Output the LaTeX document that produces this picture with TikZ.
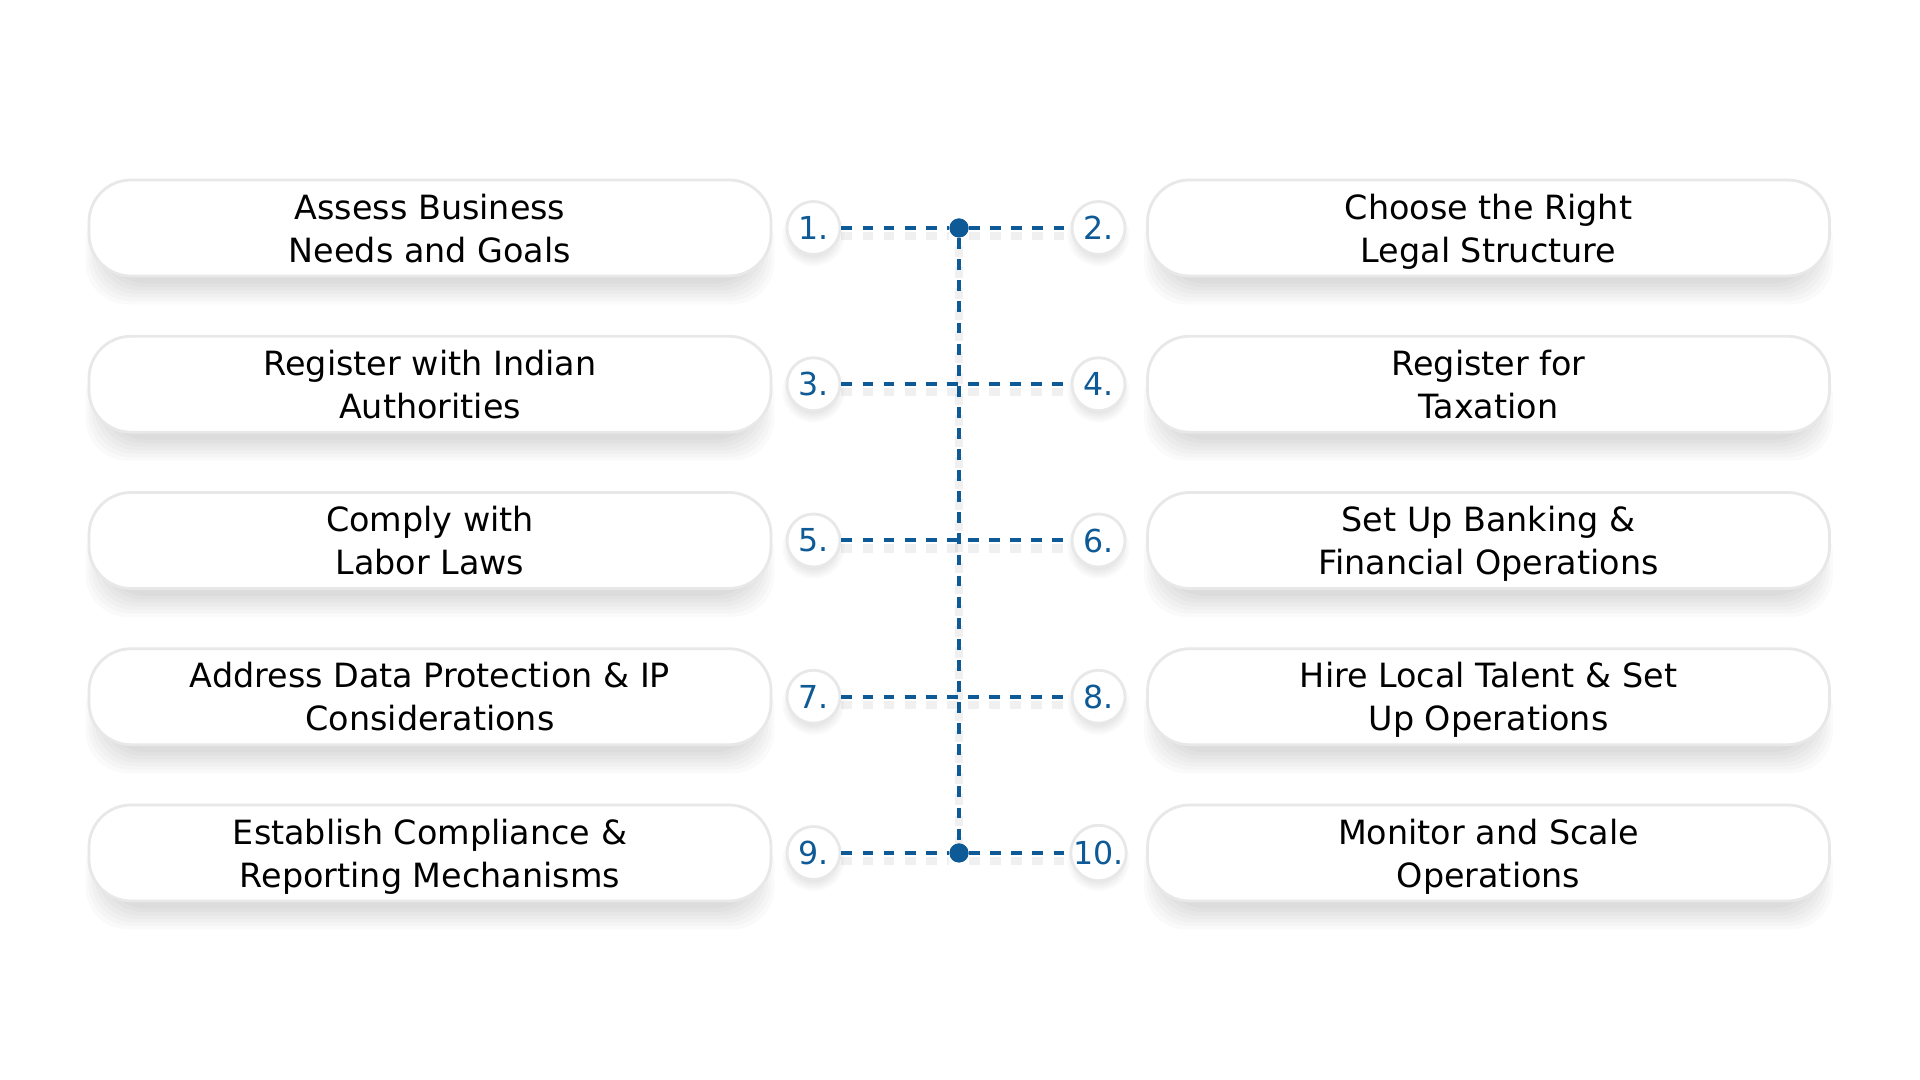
\documentclass[tikz,border=0pt]{standalone}
\usepackage{fontspec}
\setmainfont{DejaVu Sans}
\usetikzlibrary{positioning,backgrounds}
\definecolor{stepblue}{HTML}{0E5A96}
\definecolor{boxline}{HTML}{E8E8E8}

\begin{document}
\begin{tikzpicture}[%
    node distance=1.5625cm,
    on grid,
    task/.style={draw=boxline, line width=0.8pt, fill=white,
      rounded corners=0.42cm, minimum width=6.82cm, minimum height=0.96cm,
      align=center, font=\fontsize{9.5}{12.2}\selectfont,
      execute at begin node={\rule{0pt}{7.4pt}}, text depth=0pt},
    num/.style={circle, draw=boxline, line width=0.8pt, fill=white,
      minimum size=0.53cm, inner sep=0pt, text=stepblue,
      font=\fontsize{9}{10}\selectfont},
    hub/.style={circle, fill=stepblue, minimum size=0.19cm, inner sep=0pt},
    link/.style={stepblue, line width=1.14pt, dash pattern=on 3.1pt off 2.9pt,
      preaction={draw=black, opacity=0.06, line width=2.4pt,
        dash pattern=on 3.1pt off 2.9pt,
        transform canvas={yshift=-0.08cm}}},
    haze/.style={fill=black, fill opacity=0.018}
  ]
    \useasboundingbox (0,0) rectangle (19.2,10.8);

    % left column
    \node[task] (L1) at (4.30,8.52) {Assess Business\\Needs and Goals};
    \node[task] (L3) [below=of L1] {Register with Indian\\Authorities};
    \node[task] (L5) [below=of L3] {Comply with\\Labor Laws};
    \node[task] (L7) [below=of L5] {Address Data Protection \& IP\\Considerations};
    \node[task] (L9) [below=of L7] {Establish Compliance \&\\Reporting Mechanisms};

    % numbers
    \node[num] (n1) [right=3.835cm of L1] {1.};
    \node[num] (n3) [right=3.835cm of L3] {3.};
    \node[num] (n5) [right=3.835cm of L5] {5.};
    \node[num] (n7) [right=3.835cm of L7] {7.};
    \node[num] (n9) [right=3.835cm of L9] {9.};
    \node[num] (n2) [right=2.85cm of n1] {2.};
    \node[num] (n4) [right=2.85cm of n3] {4.};
    \node[num] (n6) [right=2.85cm of n5] {6.};
    \node[num] (n8) [right=2.85cm of n7] {8.};
    \node[num] (n10) [right=2.85cm of n9] {10.};

    % right column
    \node[task] (R2) [right=3.9cm of n2] {Choose the Right\\Legal Structure};
    \node[task] (R4) [right=3.9cm of n4] {Register for\\Taxation};
    \node[task] (R6) [right=3.9cm of n6] {Set Up Banking \&\\Financial Operations};
    \node[task] (R8) [right=3.9cm of n8] {Hire Local Talent \& Set\\Up Operations};
    \node[task] (R10) [right=3.9cm of n10] {Monitor and Scale\\Operations};

    % spine
    \node[hub] (h1) [right=1.455cm of n1] {};
    \node[hub] (h9) [right=1.455cm of n9] {};

    \draw[link] (h1) -- (h9);
    \draw[link] (n1) -- (h1) -- (n2);
    \draw[link] (n3) -- (n4);
    \draw[link] (n5) -- (n6);
    \draw[link] (n7) -- (n8);
    \draw[link] (n9) -- (h9) -- (n10);
    \node[hub] at (h1) {};
    \node[hub] at (h9) {};

    % soft shadows
    \begin{scope}[on background layer]
      \fill[white] (0,0) rectangle (19.2,10.8);
      \foreach \shp in {L1,L3,L5,L7,L9,R2,R4,R6,R8,R10}{
        \foreach \k in {0,...,6}{
          \path[haze, rounded corners=0.42cm]
            ([xshift=0.16cm-0.03cm*\k, yshift=-0.06cm-0.035cm*\k]\shp.south west)
            rectangle ([xshift=-0.16cm+0.03cm*\k, yshift=-0.2cm]\shp.north east);
        }
      }
      \foreach \nd in {n1,n2,n3,n4,n5,n6,n7,n8,n9,n10}{
        \foreach \k in {0,...,5}{
          \path[haze] ([yshift=-0.07cm]\nd.center) circle [radius=0.2cm+0.022cm*\k];
        }
      }
    \end{scope}
  \end{tikzpicture}
\end{document}
